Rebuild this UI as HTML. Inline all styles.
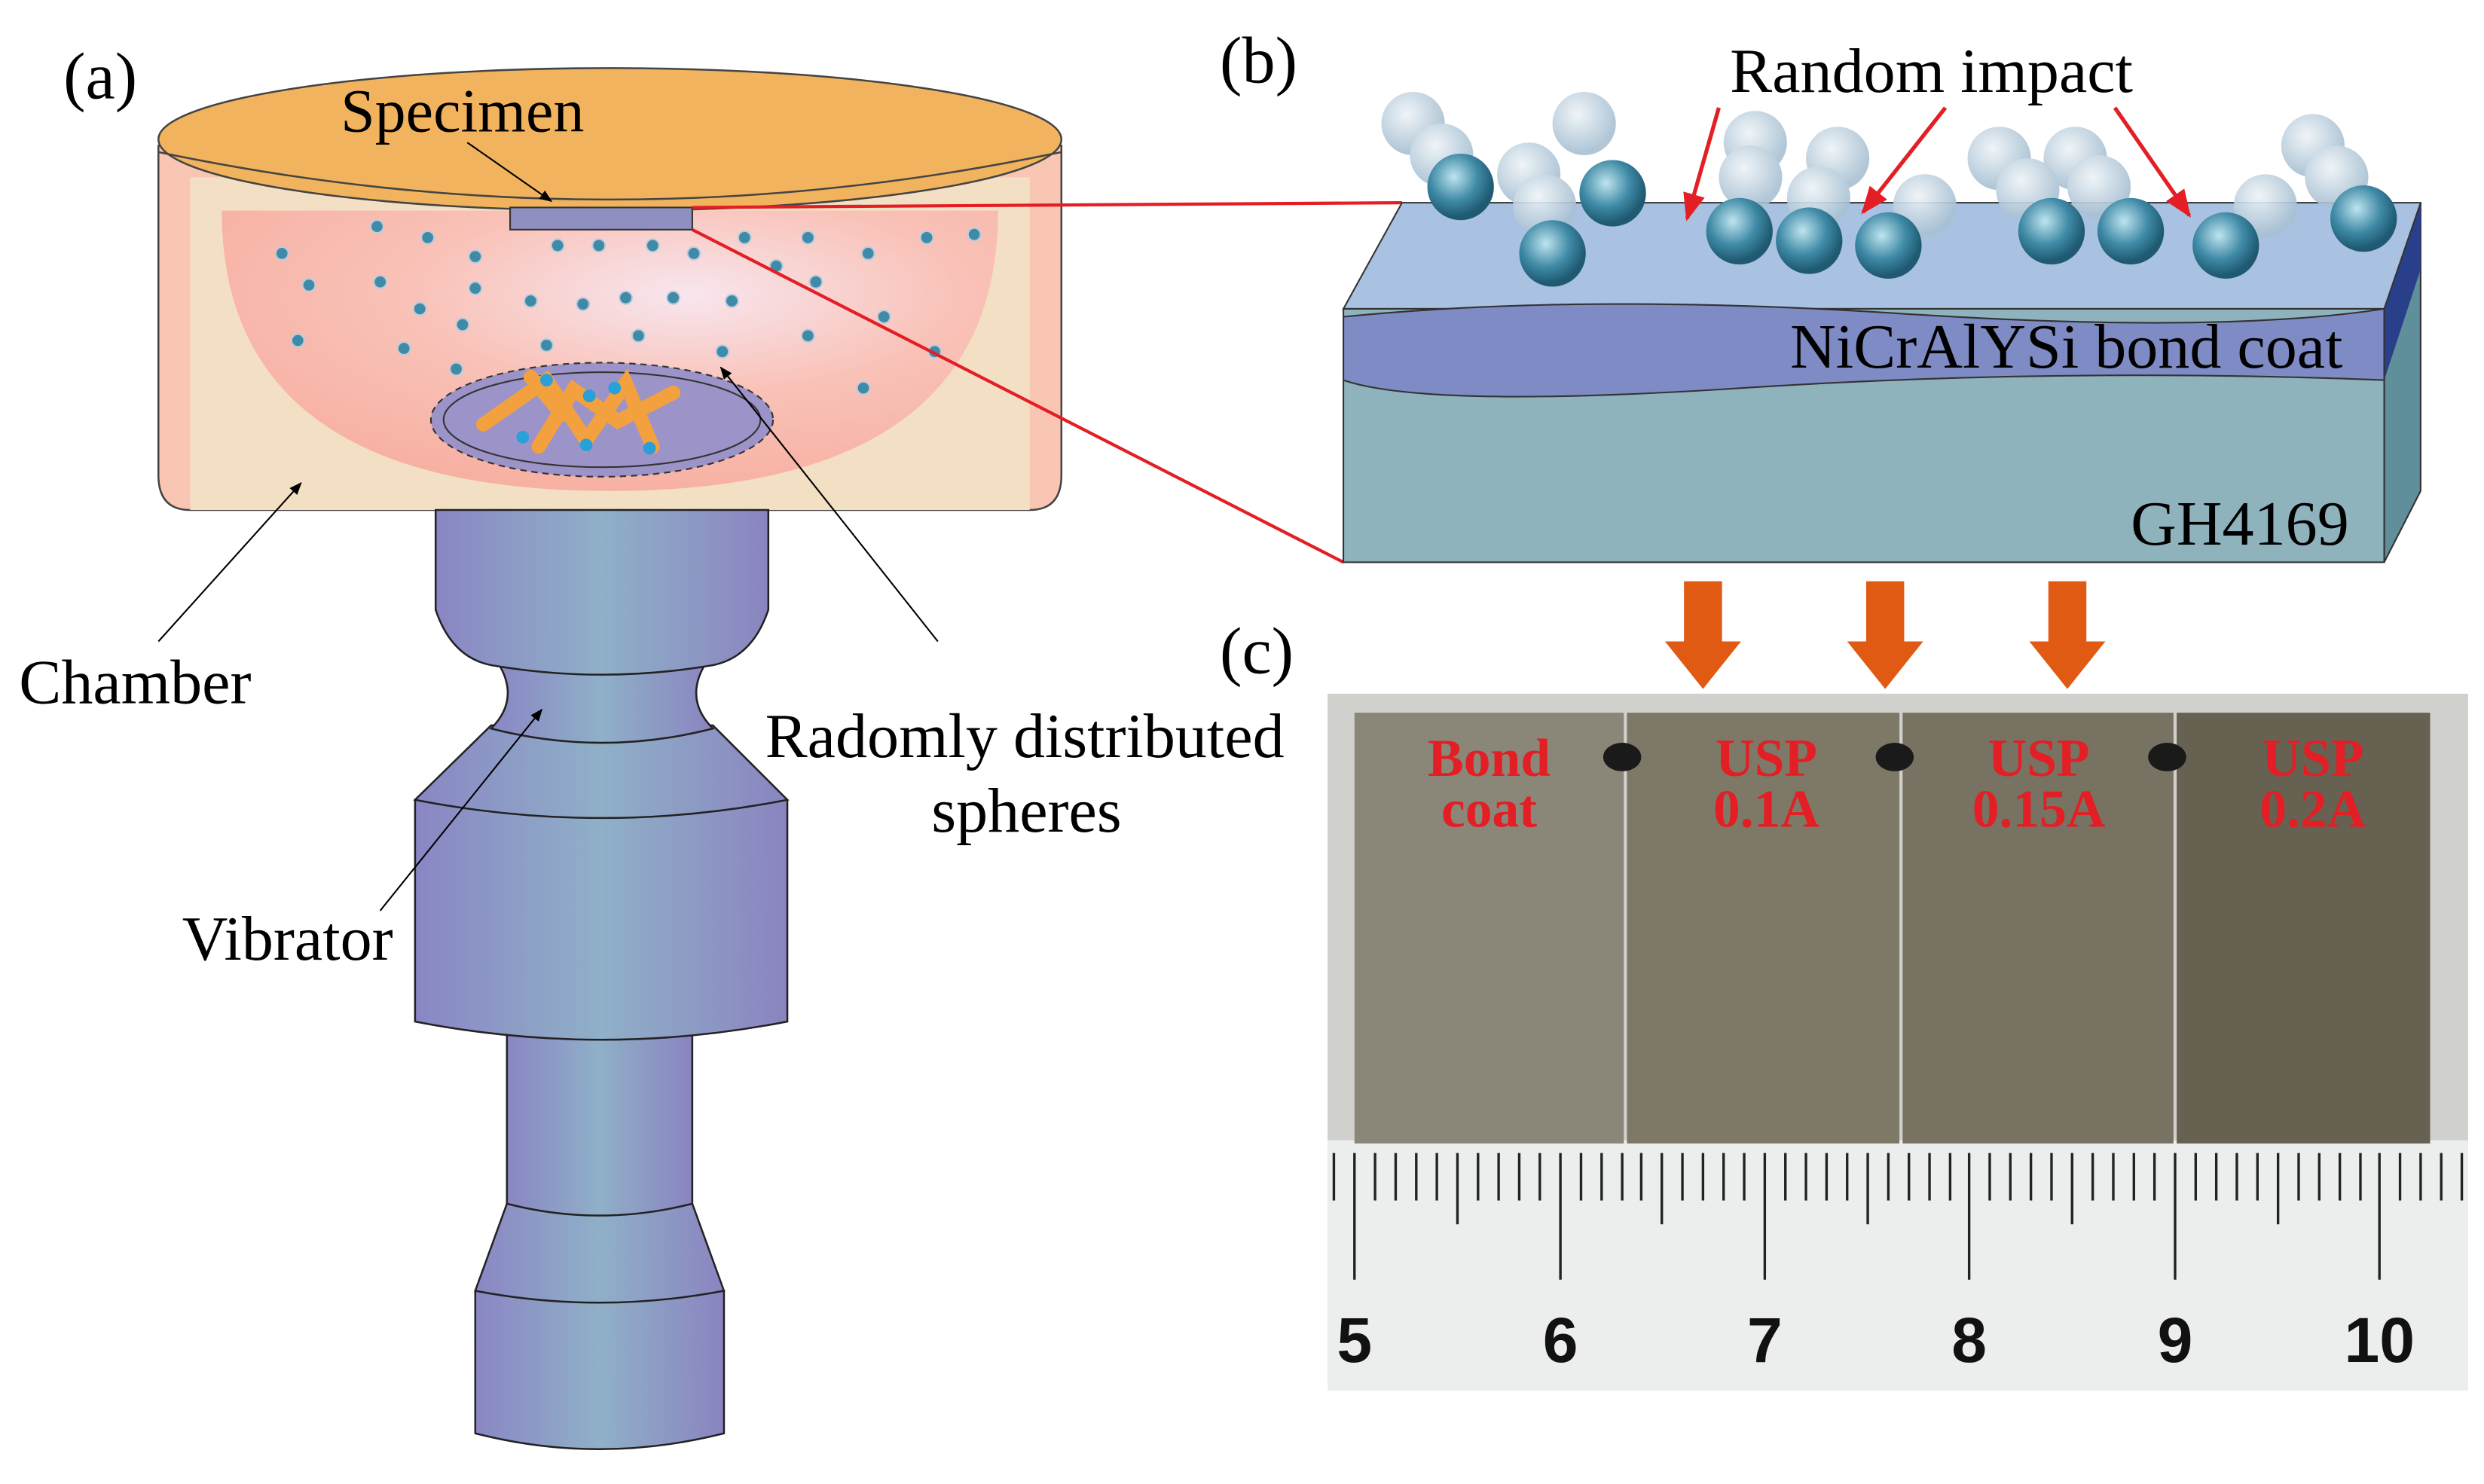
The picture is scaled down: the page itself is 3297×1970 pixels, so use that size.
<!DOCTYPE html>
<html><head><meta charset="utf-8"><style>
html,body{margin:0;padding:0;background:#fff}
svg{display:block}
text{font-family:"Liberation Serif",serif}
text.sans{font-family:"Liberation Sans",sans-serif}
</style></head><body>
<svg width="3297" height="1970" viewBox="0 0 1568 937" preserveAspectRatio="none" xmlns="http://www.w3.org/2000/svg">
<defs>
<linearGradient id="vib" x1="0" x2="1">
<stop offset="0" stop-color="#8a86c4"/><stop offset="0.5" stop-color="#8fb0c8"/><stop offset="1" stop-color="#8a84c0"/></linearGradient>
<radialGradient id="ball" cx="0.4" cy="0.35" r="0.6">
<stop offset="0" stop-color="#bfe4ef"/><stop offset="0.6" stop-color="#3f8aa6"/><stop offset="1" stop-color="#1f5a72"/></radialGradient>
<radialGradient id="ballf" cx="0.4" cy="0.35" r="0.6">
<stop offset="0" stop-color="#eef4f8"/><stop offset="1" stop-color="#a9c1d3"/></radialGradient>
<radialGradient id="bowl" cx="0.6" cy="0.3" r="0.7">
<stop offset="0" stop-color="#f8e6ee"/><stop offset="0.5" stop-color="#f9c2b8"/><stop offset="1" stop-color="#f7b1a3"/></radialGradient>
<marker id="ah" viewBox="0 0 10 10" refX="9" refY="5" markerWidth="8" markerHeight="8" orient="auto"><path d="M0,1L10,5L0,9z" fill="#000"/></marker>
<marker id="rh" viewBox="0 0 10 10" refX="9" refY="5" markerWidth="7" markerHeight="7" orient="auto"><path d="M0,1L10,5L0,9z" fill="#e31e24"/></marker>
</defs>
<text x="40" y="62" font-size="42">(a)</text>
<!-- chamber -->
<path d="M100,92 L100,300 Q100,322 120,322 L650,322 Q670,322 670,300 L670,92 Z" fill="#f9c6b4" stroke="#444" stroke-width="1.2"/>
<rect x="120" y="112" width="530" height="210" fill="#f3dfc3"/>
<path d="M140,133 L630,133 Q630,310 385,310 Q140,310 140,133 Z" fill="url(#bowl)"/>
<ellipse cx="385" cy="88" rx="285" ry="45" fill="#f2b35e" stroke="#444" stroke-width="1.2"/>
<path d="M100,96 Q385,156 670,96" fill="none" stroke="#444" stroke-width="1.2"/>
<rect x="322" y="131" width="115" height="14" fill="#8f8fc0" stroke="#333"/>
<ellipse cx="380" cy="265" rx="108" ry="36" fill="#9c93c8" stroke="#333" stroke-dasharray="4,3"/>
<ellipse cx="380" cy="265" rx="100" ry="30" fill="#9c93c8" stroke="#333"/>
<g stroke="#f2a13e" stroke-width="9" stroke-linecap="round" fill="none">
<path d="M305,268 L345,240 L370,278 L395,242 L412,282"/><path d="M340,282 L362,246 L390,266 L425,248"/><path d="M335,238 L355,262"/></g>
<g fill="#2aa0d8"><circle cx="330" cy="276" r="4"/><circle cx="370" cy="281" r="4"/><circle cx="410" cy="283" r="4"/><circle cx="345" cy="240" r="4"/><circle cx="388" cy="245" r="4"/><circle cx="372" cy="250" r="4"/></g>
<g fill="#3f8aa6" stroke="#bcd" stroke-width="1">
<circle cx="178" cy="160" r="4"/><circle cx="238" cy="143" r="4"/><circle cx="270" cy="150" r="4"/><circle cx="300" cy="162" r="4"/><circle cx="352" cy="155" r="4"/><circle cx="378" cy="155" r="4"/><circle cx="412" cy="155" r="4"/><circle cx="438" cy="160" r="4"/><circle cx="470" cy="150" r="4"/><circle cx="510" cy="150" r="4"/><circle cx="548" cy="160" r="4"/><circle cx="585" cy="150" r="4"/><circle cx="615" cy="148" r="4"/>
<circle cx="195" cy="180" r="4"/><circle cx="240" cy="178" r="4"/><circle cx="265" cy="195" r="4"/><circle cx="300" cy="182" r="4"/><circle cx="335" cy="190" r="4"/><circle cx="368" cy="192" r="4"/><circle cx="395" cy="188" r="4"/><circle cx="425" cy="188" r="4"/><circle cx="462" cy="190" r="4"/><circle cx="490" cy="168" r="4"/><circle cx="515" cy="178" r="4"/><circle cx="558" cy="200" r="4"/>
<circle cx="188" cy="215" r="4"/><circle cx="255" cy="220" r="4"/><circle cx="292" cy="205" r="4"/><circle cx="345" cy="218" r="4"/><circle cx="403" cy="212" r="4"/><circle cx="456" cy="222" r="4"/><circle cx="510" cy="212" r="4"/><circle cx="590" cy="222" r="4"/><circle cx="288" cy="233" r="4"/><circle cx="545" cy="245" r="4"/></g>
<!-- vibrator -->
<g fill="url(#vib)" stroke="#222" stroke-width="1.2">
<path d="M300,815 L300,905 Q378,925 457,905 L457,815 Z"/>
<path d="M320,760 L300,815 Q378,830 457,815 L437,760 Z"/>
<path d="M320,650 L320,760 Q378,775 437,760 L437,650 Z"/>
<path d="M262,505 L262,645 Q380,668 497,645 L497,505 Z"/>
<path d="M310,458 L262,505 Q380,528 497,505 L450,458 Z"/>
<path d="M312,415 Q330,440 310,460 Q380,478 450,460 Q430,440 448,415 Z"/>
<path d="M275,322 L275,385 Q285,415 310,420 Q380,432 450,420 Q475,415 485,385 L485,322 Z"/>
</g>
<!-- labels a -->
<text x="215" y="83" font-size="39">Specimen</text>
<line x1="295" y1="90" x2="348" y2="127" stroke="#000" marker-end="url(#ah)"/>
<text x="12" y="444" font-size="40">Chamber</text>
<line x1="100" y1="405" x2="190" y2="305" stroke="#000" marker-end="url(#ah)"/>
<text x="483" y="478" font-size="40">Radomly distributed</text>
<text x="588" y="525" font-size="40">spheres</text>
<line x1="592" y1="405" x2="455" y2="232" stroke="#000" marker-end="url(#ah)"/>
<text x="115" y="606" font-size="40">Vibrator</text>
<line x1="240" y1="575" x2="342" y2="448" stroke="#000" marker-end="url(#ah)"/>
<!-- red lines -->
<line x1="437" y1="131" x2="885" y2="128" stroke="#e31e24" stroke-width="2"/>
<line x1="437" y1="145" x2="848" y2="355" stroke="#e31e24" stroke-width="2"/>
<!-- (b) -->
<text x="770" y="52" font-size="42">(b)</text>
<polygon points="1505,195 1528,128 1528,310 1505,355" fill="#5e8f9a" stroke="#333"/>
<polygon points="1505,195 1528,128 1528,170 1505,240" fill="#2a3f8a"/>
<polygon points="848,195 885,128 1528,128 1505,195" fill="#a9c2e2" stroke="#333"/>
<rect x="848" y="195" width="657" height="160" fill="#8fb3bd" stroke="#333"/>
<path d="M848,200 Q1000,185 1200,198 T1505,195 L1505,240 Q1300,232 1100,245 T848,240 Z" fill="#7f8bc4" stroke="#333"/>
<text x="1130" y="232" font-size="40">NiCrAlYSi bond coat</text>
<text x="1345" y="344" font-size="40">GH4169</text>
<g fill="url(#ballf)" opacity="0.9">
<circle cx="892" cy="78" r="20"/><circle cx="910" cy="98" r="20"/><circle cx="965" cy="110" r="20"/><circle cx="1000" cy="78" r="20"/><circle cx="975" cy="130" r="20"/>
<circle cx="1108" cy="90" r="20"/><circle cx="1105" cy="112" r="20"/><circle cx="1160" cy="100" r="20"/><circle cx="1215" cy="130" r="20"/>
<circle cx="1262" cy="100" r="20"/><circle cx="1310" cy="100" r="20"/><circle cx="1280" cy="120" r="20"/><circle cx="1325" cy="118" r="20"/><circle cx="1430" cy="130" r="20"/><circle cx="1460" cy="92" r="20"/><circle cx="1475" cy="112" r="20"/><circle cx="1148" cy="125" r="20"/>
</g>
<g fill="url(#ball)">
<circle cx="922" cy="118" r="21"/><circle cx="1018" cy="122" r="21"/><circle cx="980" cy="160" r="21"/>
<circle cx="1098" cy="146" r="21"/><circle cx="1142" cy="152" r="21"/><circle cx="1192" cy="155" r="21"/>
<circle cx="1295" cy="146" r="21"/><circle cx="1345" cy="146" r="21"/><circle cx="1405" cy="155" r="21"/><circle cx="1492" cy="138" r="21"/>
</g>
<text x="1092" y="58" font-size="40">Random impact</text>
<g stroke="#e31e24" stroke-width="2.5" marker-end="url(#rh)" fill="none">
<line x1="1085" y1="68" x2="1065" y2="138"/><line x1="1228" y1="68" x2="1176" y2="134"/><line x1="1335" y1="68" x2="1382" y2="136"/></g>
<!-- orange arrows -->
<g fill="#e05a14">
<path d="M1063,367 h24 v38 h12 l-24,30 l-24,-30 h12z"/>
<path d="M1178,367 h24 v38 h12 l-24,30 l-24,-30 h12z"/>
<path d="M1293,367 h24 v38 h12 l-24,30 l-24,-30 h12z"/>
</g>
<!-- (c) -->
<text x="770" y="425" font-size="42">(c)</text>
<rect x="838" y="438" width="720" height="440" fill="#d0d0cd"/>
<rect x="838" y="720" width="720" height="158" fill="#eceeee"/>
<rect x="855" y="450" width="170" height="272" fill="#8a8779"/>
<rect x="1027" y="450" width="172" height="272" fill="#7e7867"/>
<rect x="1201" y="450" width="171" height="272" fill="#787262"/>
<rect x="1374" y="450" width="160" height="272" fill="#676152"/>
<g fill="#1a1a1a"><ellipse cx="1024" cy="478" rx="12" ry="9"/><ellipse cx="1196" cy="478" rx="12" ry="9"/><ellipse cx="1368" cy="478" rx="12" ry="9"/></g>
<g fill="#e31e24" font-size="34" font-weight="bold" text-anchor="middle">
<text x="940" y="490">Bond</text><text x="940" y="522">coat</text>
<text x="1115" y="490">USP</text><text x="1115" y="522">0.1A</text>
<text x="1287" y="490">USP</text><text x="1287" y="522">0.15A</text>
<text x="1460" y="490">USP</text><text x="1460" y="522">0.2A</text>
</g>
<g stroke="#222" stroke-width="1.6">
<path d="M842,728v30M855,728v80M868,728v30M881,728v30M894,728v30M907,728v30M920,728v45M933,728v30M946,728v30M959,728v30M972,728v30M985,728v80M998,728v30M1011,728v30M1024,728v30M1036,728v30M1049,728v45M1062,728v30M1075,728v30M1088,728v30M1101,728v30M1114,728v80M1127,728v30M1140,728v30M1153,728v30M1166,728v30M1179,728v45M1192,728v30M1205,728v30M1218,728v30M1231,728v30M1243,728v80M1256,728v30M1269,728v30M1282,728v30M1295,728v30M1308,728v45M1321,728v30M1334,728v30M1347,728v30M1360,728v30M1373,728v80M1386,728v30M1399,728v30M1412,728v30M1425,728v30M1438,728v45M1451,728v30M1464,728v30M1477,728v30M1490,728v30M1502,728v80M1515,728v30M1528,728v30M1541,728v30M1554,728v30"/>
</g>
<g font-size="40" font-weight="bold" fill="#111" text-anchor="middle">
<text class="sans" x="855" y="860">5</text><text class="sans" x="985" y="860">6</text><text class="sans" x="1114" y="860">7</text><text class="sans" x="1243" y="860">8</text><text class="sans" x="1373" y="860">9</text><text class="sans" x="1502" y="860">10</text>
</g>
</svg>
</body></html>
